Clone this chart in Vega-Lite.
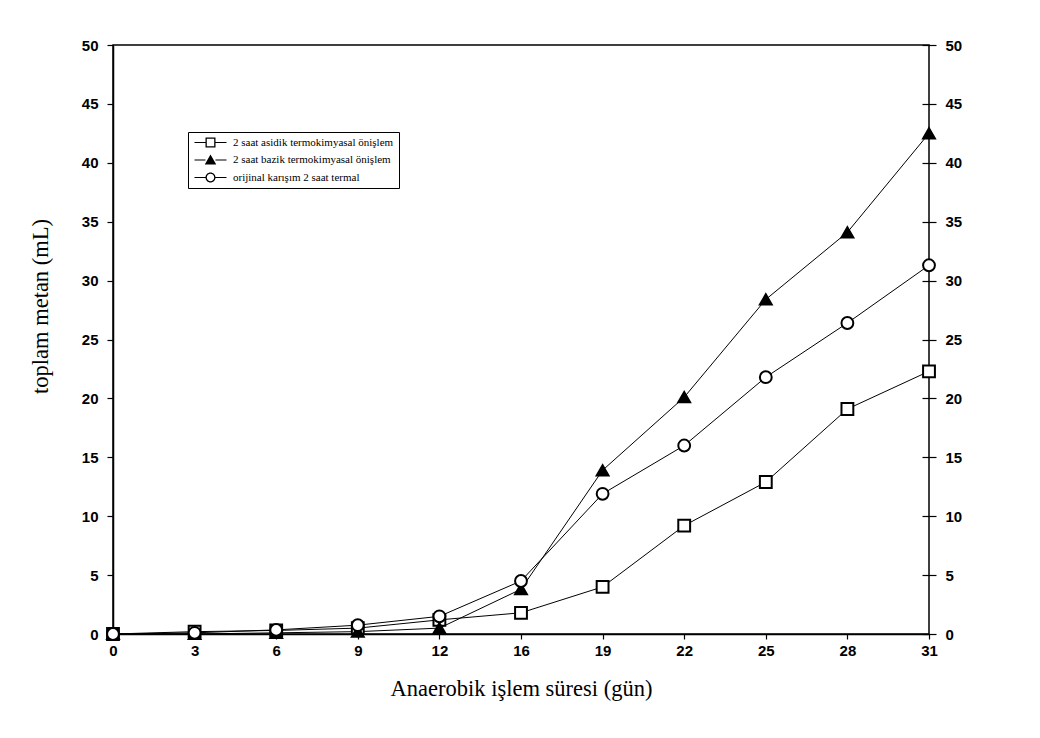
{
  "$schema": "https://vega.github.io/schema/vega-lite/v6.json",
  "width": 816,
  "height": 589,
  "autosize": {"type": "none"},
  "padding": {"left": 113, "top": 45, "right": 111, "bottom": 104},
  "background": "white",
  "config": {
    "view": {"stroke": "black", "strokeWidth": 1.5},
    "axis": {
      "grid": false,
      "domainColor": "black",
      "domainWidth": 1.5,
      "tickColor": "black",
      "tickWidth": 1.2,
      "labelColor": "black",
      "titleColor": "black",
      "labelFont": "Liberation Sans",
      "labelFontSize": 15,
      "labelFontWeight": "bold",
      "titleFont": "Liberation Serif",
      "titleFontSize": 22.5,
      "titleFontWeight": "normal"
    }
  },
  "data": {
    "values": [
      {"gun": 0, "metan": 0.0, "seri": "2 saat asidik termokimyasal önişlem"},
      {"gun": 3, "metan": 0.2, "seri": "2 saat asidik termokimyasal önişlem"},
      {"gun": 6, "metan": 0.3, "seri": "2 saat asidik termokimyasal önişlem"},
      {"gun": 9, "metan": 0.5, "seri": "2 saat asidik termokimyasal önişlem"},
      {"gun": 12, "metan": 1.2, "seri": "2 saat asidik termokimyasal önişlem"},
      {"gun": 16, "metan": 1.8, "seri": "2 saat asidik termokimyasal önişlem"},
      {"gun": 19, "metan": 4.0, "seri": "2 saat asidik termokimyasal önişlem"},
      {"gun": 22, "metan": 9.2, "seri": "2 saat asidik termokimyasal önişlem"},
      {"gun": 25, "metan": 12.9, "seri": "2 saat asidik termokimyasal önişlem"},
      {"gun": 28, "metan": 19.1, "seri": "2 saat asidik termokimyasal önişlem"},
      {"gun": 31, "metan": 22.3, "seri": "2 saat asidik termokimyasal önişlem"},
      {"gun": 0, "metan": 0.0, "seri": "2 saat bazik termokimyasal önişlem"},
      {"gun": 3, "metan": 0.0, "seri": "2 saat bazik termokimyasal önişlem"},
      {"gun": 6, "metan": 0.1, "seri": "2 saat bazik termokimyasal önişlem"},
      {"gun": 9, "metan": 0.2, "seri": "2 saat bazik termokimyasal önişlem"},
      {"gun": 12, "metan": 0.5, "seri": "2 saat bazik termokimyasal önişlem"},
      {"gun": 16, "metan": 3.8, "seri": "2 saat bazik termokimyasal önişlem"},
      {"gun": 19, "metan": 13.9, "seri": "2 saat bazik termokimyasal önişlem"},
      {"gun": 22, "metan": 20.1, "seri": "2 saat bazik termokimyasal önişlem"},
      {"gun": 25, "metan": 28.4, "seri": "2 saat bazik termokimyasal önişlem"},
      {"gun": 28, "metan": 34.1, "seri": "2 saat bazik termokimyasal önişlem"},
      {"gun": 31, "metan": 42.5, "seri": "2 saat bazik termokimyasal önişlem"},
      {"gun": 0, "metan": 0.0, "seri": "orijinal karışım 2 saat termal"},
      {"gun": 3, "metan": 0.1, "seri": "orijinal karışım 2 saat termal"},
      {"gun": 6, "metan": 0.35, "seri": "orijinal karışım 2 saat termal"},
      {"gun": 9, "metan": 0.75, "seri": "orijinal karışım 2 saat termal"},
      {"gun": 12, "metan": 1.5, "seri": "orijinal karışım 2 saat termal"},
      {"gun": 16, "metan": 4.5, "seri": "orijinal karışım 2 saat termal"},
      {"gun": 19, "metan": 11.9, "seri": "orijinal karışım 2 saat termal"},
      {"gun": 22, "metan": 16.0, "seri": "orijinal karışım 2 saat termal"},
      {"gun": 25, "metan": 21.8, "seri": "orijinal karışım 2 saat termal"},
      {"gun": 28, "metan": 26.4, "seri": "orijinal karışım 2 saat termal"},
      {"gun": 31, "metan": 31.3, "seri": "orijinal karışım 2 saat termal"}
    ]
  },
  "resolve": {"axis": {"y": "independent"}, "scale": {"shape": "independent", "fill": "independent"}},
  "layer": [
    {
      "mark": {"type": "line", "color": "black", "strokeWidth": 1},
      "encoding": {
        "x": {
          "field": "gun",
          "type": "ordinal",
          "scale": {"type": "point", "padding": 0},
          "axis": {
            "title": "Anaerobik işlem süresi (gün)",
            "labelAngle": 0,
            "tickSize": 5,
            "labelPadding": 4,
            "titlePadding": 19
          }
        },
        "y": {
          "field": "metan",
          "type": "quantitative",
          "scale": {"domain": [0, 50], "nice": false, "zero": true},
          "axis": {
            "title": "toplam metan (mL)",
            "values": [0, 5, 10, 15, 20, 25, 30, 35, 40, 45, 50],
            "tickSize": 6,
            "labelPadding": 9,
            "titlePadding": 29,
            "titleY": 261
          }
        },
        "detail": {"field": "seri"}
      }
    },
    {
      "mark": {"type": "point", "stroke": "black", "strokeWidth": 2, "size": 140, "opacity": 1},
      "encoding": {
        "x": {"field": "gun", "type": "ordinal"},
        "y": {
          "field": "metan",
          "type": "quantitative",
          "axis": {
            "orient": "right",
            "title": null,
            "values": [0, 5, 10, 15, 20, 25, 30, 35, 40, 45, 50],
            "offset": -7,
            "domain": false,
            "tickSize": 14,
            "labelPadding": 9
          }
        },
        "fill": {
          "field": "seri",
          "type": "nominal",
          "scale": {
            "domain": ["2 saat asidik termokimyasal önişlem", "2 saat bazik termokimyasal önişlem", "orijinal karışım 2 saat termal"],
            "range": ["white", "black", "white"]
          },
          "legend": null
        },
        "shape": {
          "field": "seri",
          "type": "nominal",
          "scale": {
            "domain": ["2 saat asidik termokimyasal önişlem", "2 saat bazik termokimyasal önişlem", "orijinal karışım 2 saat termal"],
            "range": ["square", "triangle-up", "circle"]
          },
          "legend": null
        }
      }
    },
    {
      "transform": [{"filter": "datum.gun < 0"}],
      "mark": {"type": "point", "filled": true, "color": "black", "strokeWidth": 0, "size": 100, "opacity": 1},
      "encoding": {
        "shape": {
          "field": "seri",
          "type": "nominal",
          "scale": {
            "domain": ["2 saat asidik termokimyasal önişlem", "2 saat bazik termokimyasal önişlem", "orijinal karışım 2 saat termal"],
            "range": [
              "M-3.2,-0.1H-1V0.1H-3.2Z M1,-0.1H3.2V0.1H1Z M-1,-1H1V1H-1Z M-0.74,-0.74V0.74H0.74V-0.74Z",
              "M-3.2,-0.1H-1V0.1H-3.2Z M1,-0.1H3.2V0.1H1Z M0,-1.1L1.15,0.9H-1.15Z",
              "M-3.2,-0.1H-1V0.1H-3.2Z M1,-0.1H3.2V0.1H1Z M1,0C1,0.552 0.552,1 0,1C-0.552,1 -1,0.552 -1,0C-1,-0.552 -0.552,-1 0,-1C0.552,-1 1,-0.552 1,0Z M0.74,0C0.74,-0.4085 0.4085,-0.74 0,-0.74C-0.4085,-0.74 -0.74,-0.4085 -0.74,0C-0.74,0.4085 -0.4085,0.74 0,0.74C0.4085,0.74 0.74,0.4085 0.74,0Z"
            ]
          },
          "legend": {
            "orient": "none",
            "legendX": 75,
            "legendY": 87,
            "title": null,
            "strokeColor": "black",
            "fillColor": "white",
            "padding": 5,
            "symbolSize": 100,
            "symbolOffset": 12,
            "labelOffset": 17,
            "labelFont": "Liberation Serif",
            "labelFontSize": 11,
            "labelColor": "black",
            "labelLimit": 400,
            "rowPadding": 5.5,
            "symbolFillColor": "black",
            "symbolStrokeWidth": 0
          }
        }
      }
    }
  ]
}
